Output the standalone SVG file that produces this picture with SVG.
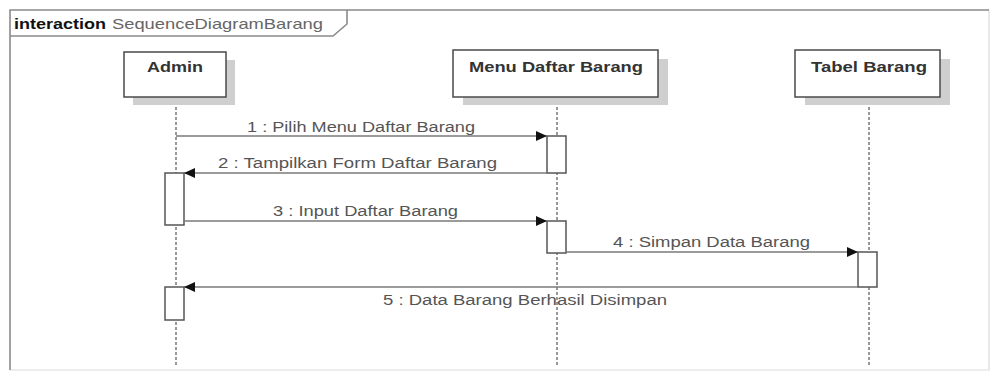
<svg xmlns="http://www.w3.org/2000/svg" width="993" height="376" viewBox="0 0 993 376">
<style>
.frame{fill:none;stroke:#8a8a8a;stroke-width:1.6}
.frame-faint{fill:none;stroke:#dcdcdc;stroke-width:1.2}
.box{fill:#fff;stroke:#4a4a4a;stroke-width:1.5}
.shadow{fill:#cfcfcf}
.life{stroke:#333;stroke-width:1;stroke-dasharray:3 2}
.act{fill:#fff;stroke:#555;stroke-width:1.5}
.msg{stroke:#7a7a7a;stroke-width:1.6;fill:none;marker-end:url(#ah)}
.name{font-family:"Liberation Sans",Arial,sans-serif;font-weight:bold;font-size:14px;fill:#333}
.lbl{font-family:"Liberation Sans",Arial,sans-serif;font-size:14px;fill:#555}
.title{font-family:"Liberation Sans",Arial,sans-serif;font-size:15px;fill:#666}
</style>
<defs>
<marker id="ah" markerUnits="userSpaceOnUse" markerWidth="12" markerHeight="10" refX="11" refY="5" orient="auto">
<path d="M0,0 L11,5 L0,10 Z" fill="#111"/>
</marker>
</defs>
<rect width="993" height="376" fill="#fff"/>
<g id="frame">
<path class="frame-faint" d="M989,10 V370 H10"/>
<path class="frame" d="M10,370 V10 H989"/>
<path class="frame" d="M10,36 H333 L347,24 V10"/>
<text class="title" x="14" y="29"><tspan font-weight="bold" fill="#111" textLength="92" lengthAdjust="spacingAndGlyphs">interaction</tspan><tspan x="112" textLength="211" lengthAdjust="spacingAndGlyphs">SequenceDiagramBarang</tspan></text>
</g>
<g id="lifelines">
<line class="life" x1="176" y1="97" x2="176" y2="367"/>
<line class="life" x1="557" y1="97" x2="557" y2="367"/>
<line class="life" x1="869" y1="97" x2="869" y2="367"/>
</g>
<g id="admin">
<rect class="shadow" x="133" y="60" width="102" height="45"/>
<rect class="box" x="124" y="52" width="102" height="45"/>
<text class="name" x="147" y="72" textLength="56" lengthAdjust="spacingAndGlyphs">Admin</text>
</g>
<g id="menu">
<rect class="shadow" x="463" y="59" width="205" height="46"/>
<rect class="box" x="453" y="50" width="205" height="47"/>
<text class="name" x="469" y="72" textLength="174" lengthAdjust="spacingAndGlyphs">Menu Daftar Barang</text>
</g>
<g id="tabel">
<rect class="shadow" x="805" y="59" width="145" height="46"/>
<rect class="box" x="795" y="50" width="145" height="47"/>
<text class="name" x="811" y="72" textLength="116" lengthAdjust="spacingAndGlyphs">Tabel Barang</text>
</g>
<g id="activations">
<rect class="act" x="547" y="136" width="19" height="37"/>
<rect class="act" x="165" y="173" width="19" height="52"/>
<rect class="act" x="547" y="221" width="19" height="32"/>
<rect class="act" x="858" y="252" width="19" height="35"/>
<rect class="act" x="165" y="287" width="19" height="33"/>
</g>
<g id="connectors">
<line class="msg" x1="176" y1="136" x2="547" y2="136"/>
<line class="msg" x1="547" y1="173" x2="184" y2="173"/>
<line class="msg" x1="184" y1="221" x2="547" y2="221"/>
<line class="msg" x1="566" y1="252" x2="858" y2="252"/>
<line class="msg" x1="858" y1="287" x2="184" y2="287"/>
<text class="lbl" x="247" y="132" textLength="228" lengthAdjust="spacingAndGlyphs">1 : Pilih Menu Daftar Barang</text>
<text class="lbl" x="218" y="168" textLength="279" lengthAdjust="spacingAndGlyphs">2 : Tampilkan Form Daftar Barang</text>
<text class="lbl" x="273" y="216" textLength="185" lengthAdjust="spacingAndGlyphs">3 : Input Daftar Barang</text>
<text class="lbl" x="613" y="247" textLength="197" lengthAdjust="spacingAndGlyphs">4 : Simpan Data Barang</text>
<text class="lbl" x="383" y="305" textLength="284" lengthAdjust="spacingAndGlyphs">5 : Data Barang Berhasil Disimpan</text>
</g>
</svg>
